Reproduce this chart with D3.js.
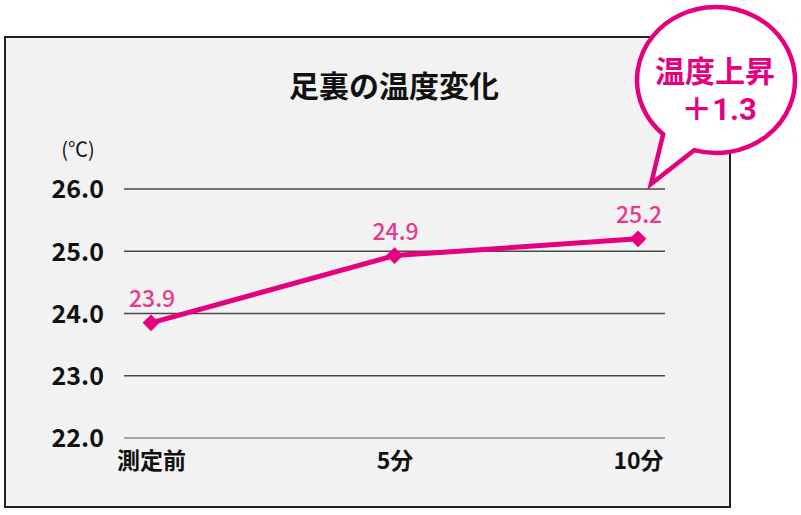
<!DOCTYPE html>
<html><head><meta charset="utf-8">
<script src="https://cdn.jsdelivr.net/npm/d3@7"></script>
<style>body{margin:0;background:#fff}svg{display:block}</style>
</head><body>
<svg id="c" width="801" height="515"></svg>
<script>
const categories = ["測定前", "5分", "10分"];
const values = [23.85, 24.93, 25.2];
const yTicks = [22, 23, 24, 25, 26];
const title = "足裏の温度変化";
const unit = "(℃)";
const bubbleLines = ["温度上昇", "＋1.3"];

const font = "'Noto Sans CJK JP', 'Noto Sans', sans-serif";
const latinFont = "Roboto, 'Noto Sans CJK JP', sans-serif";
const pink = "#e4007f";
const svg = d3.select("#c");

svg.append("rect").attr("x", 5).attr("y", 37).attr("width", 725).attr("height", 470)
  .attr("fill", "#f2f2f2").attr("stroke", "#222").attr("stroke-width", 2);

const x = d3.scalePoint().domain(categories).range([151, 638]);
const y = d3.scaleLinear().domain([22, 26]).range([438, 189]);

svg.append("text").attr("x", 394).attr("y", 97).attr("text-anchor", "middle")
  .attr("font-family", font).attr("font-weight", 700).attr("font-size", 30).attr("fill", "#111").text(title);

svg.append("text").attr("x", 78).attr("y", 157).attr("text-anchor", "middle")
  .attr("font-family", font).attr("font-size", 20).attr("fill", "#111").text(unit);

// gridlines
svg.append("g").selectAll("line").data(yTicks).join("line")
  .attr("x1", 124).attr("x2", 665).attr("y1", d => y(d)).attr("y2", d => y(d))
  .attr("stroke", d => d === 22 ? "#8c8c8c" : "#4a4a4a").attr("stroke-width", 1.6);

// y axis labels
const yAxis = d3.axisLeft(y).tickValues(yTicks).tickFormat(d3.format(".1f")).tickSize(0).tickPadding(0);
const ga = svg.append("g").attr("transform", "translate(104,0)").call(yAxis);
ga.select(".domain").remove();
ga.selectAll("text").attr("font-family", font).attr("font-weight", 700).attr("font-size", 25)
  .attr("fill", "#111").attr("dy", "0.35em");

// x axis labels
const xAxis = d3.axisBottom(x).tickSize(0).tickPadding(0);
const gx = svg.append("g").call(xAxis);
gx.select(".domain").remove();
gx.selectAll("text").attr("font-family", font).attr("font-weight", 700).attr("font-size", 23)
  .attr("fill", "#111").attr("y", 469).attr("dy", null);

// line
const data = categories.map((c, i) => ({c, v: values[i]}));
svg.append("path").datum(data)
  .attr("d", d3.line().x(d => x(d.c)).y(d => y(d.v)))
  .attr("fill", "none").attr("stroke", pink).attr("stroke-width", 5).attr("stroke-linejoin", "round");

svg.append("g").selectAll("path").data(data).join("path")
  .attr("d", d3.symbol(d3.symbolSquare, 140)())
  .attr("transform", d => `translate(${x(d.c)},${y(d.v)}) rotate(45)`)
  .attr("fill", pink);

svg.append("g").selectAll("text").data(data).join("text")
  .attr("x", d => x(d.c) + 1).attr("y", d => y(d.v) - 16)
  .attr("text-anchor", "middle").attr("font-family", font).attr("font-weight", 500).attr("font-size", 23)
  .attr("fill", "#e8388f").text(d => d3.format(".1f")(d.v));

// speech bubble
const cx = 716, cy = 80, rx = 79, ry = 73;
const a1 = 132 * Math.PI / 180, a2 = 106 * Math.PI / 180;
const p1 = [cx + rx * Math.cos(a1), cy + ry * Math.sin(a1)];
const p2 = [cx + rx * Math.cos(a2), cy + ry * Math.sin(a2)];
const tip = [651, 184];
const bpath = `M${p2[0]},${p2[1]} A${rx},${ry} 0 1 0 ${p1[0]},${p1[1]} L${tip[0]},${tip[1]} Z`;
svg.append("path").attr("d", bpath).attr("fill", "#fff").attr("stroke", pink)
  .attr("stroke-width", 4.5).attr("stroke-linejoin", "miter");

svg.append("text").attr("x", 715).attr("y", 82).attr("text-anchor", "middle")
  .attr("font-family", font).attr("font-weight", 700).attr("font-size", 30)
  .attr("fill", pink).text(bubbleLines[0]);
svg.append("text").attr("x", 719).attr("y", 120).attr("text-anchor", "middle")
  .attr("font-family", latinFont).attr("font-weight", 700).attr("font-size", 31)
  .attr("fill", pink).text(bubbleLines[1]);
</script>
</body></html>
